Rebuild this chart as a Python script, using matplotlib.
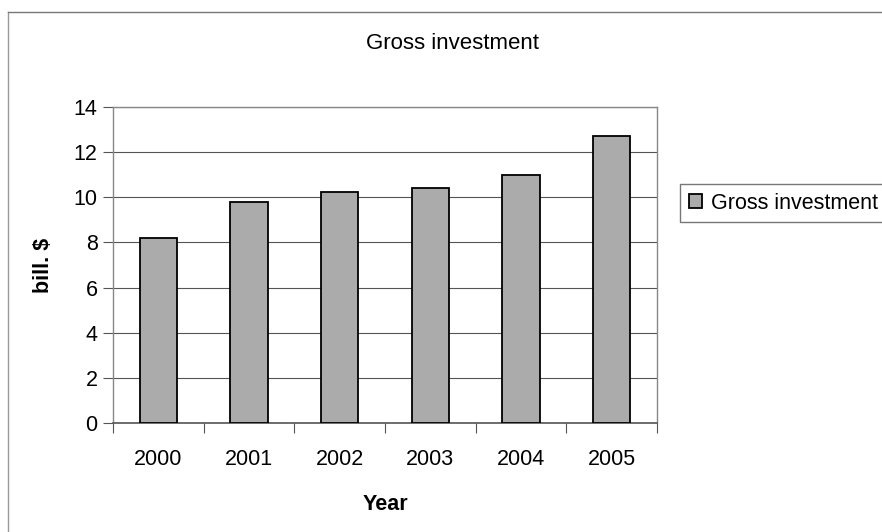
import matplotlib.pyplot as plt
from matplotlib.lines import Line2D
import numpy as np

plt.rcParams["font.family"] = ["Liberation Sans", "DejaVu Sans"]

years = ["2000", "2001", "2002", "2003", "2004", "2005"]
investment = [8.2, 9.8, 10.25, 10.4, 11.0, 12.7]
y_ticks = [0, 2, 4, 6, 8, 10, 12, 14]

fig = plt.figure(figsize=(8.82, 5.32), dpi=100)
ax = fig.add_axes([113 / 882, 1 - 423 / 532, 544 / 882, 316 / 532])

x = np.arange(len(years))
ax.bar(x, investment, width=0.41, color="#ababab", edgecolor="black", linewidth=1.3,
       label="Gross investment", zorder=3)

ax.set_xlim(-0.5, len(years) - 0.5)
ax.set_ylim(0, 14)
ax.set_yticks(y_ticks)
ax.set_yticklabels([str(v) for v in y_ticks], fontsize=15.5)
ax.set_xticks(x)
ax.set_xticklabels(years, fontsize=15.5)
ax.tick_params(axis="x", length=0, pad=19)
ax.tick_params(axis="y", length=7, width=0.8, color="#555555", pad=4)
# category boundary ticks on the x axis
ax.set_xticks(np.arange(-0.5, len(years)), minor=True)
ax.tick_params(axis="x", which="minor", length=7, width=0.8, color="#555555")

ax.grid(axis="y", color="#555555", linewidth=0.8, zorder=0)
for side in ["top", "right", "left"]:
    ax.spines[side].set_color("#888888")
    ax.spines[side].set_linewidth(1.0)
ax.spines["bottom"].set_color("#555555")
ax.spines["bottom"].set_linewidth(1.2)

ax.set_xlabel("Year", fontsize=15.5, fontweight="bold", labelpad=17)
ax.set_ylabel("bill. $", fontsize=15.5, fontweight="bold", labelpad=14)

fig.text(452 / 882, 1 - 44 / 532, "Gross investment", fontsize=16, ha="center", va="center")

fig.legend(loc="upper left", bbox_to_anchor=(680 / 882, 1 - 184 / 532), fontsize=15.5,
           frameon=True, fancybox=False, edgecolor="#555555", borderpad=0.4,
           handlelength=0.6, handleheight=0.6, handletextpad=0.45, borderaxespad=0)

# outer chart border
fig.add_artist(Line2D([8 / 882, 8 / 882], [0, 1 - 12 / 532], transform=fig.transFigure,
                      color="#999999", linewidth=1.0))
fig.add_artist(Line2D([8 / 882, 1], [1 - 12 / 532, 1 - 12 / 532], transform=fig.transFigure,
                      color="#777777", linewidth=1.0))

fig.savefig("out.png", dpi=100)
